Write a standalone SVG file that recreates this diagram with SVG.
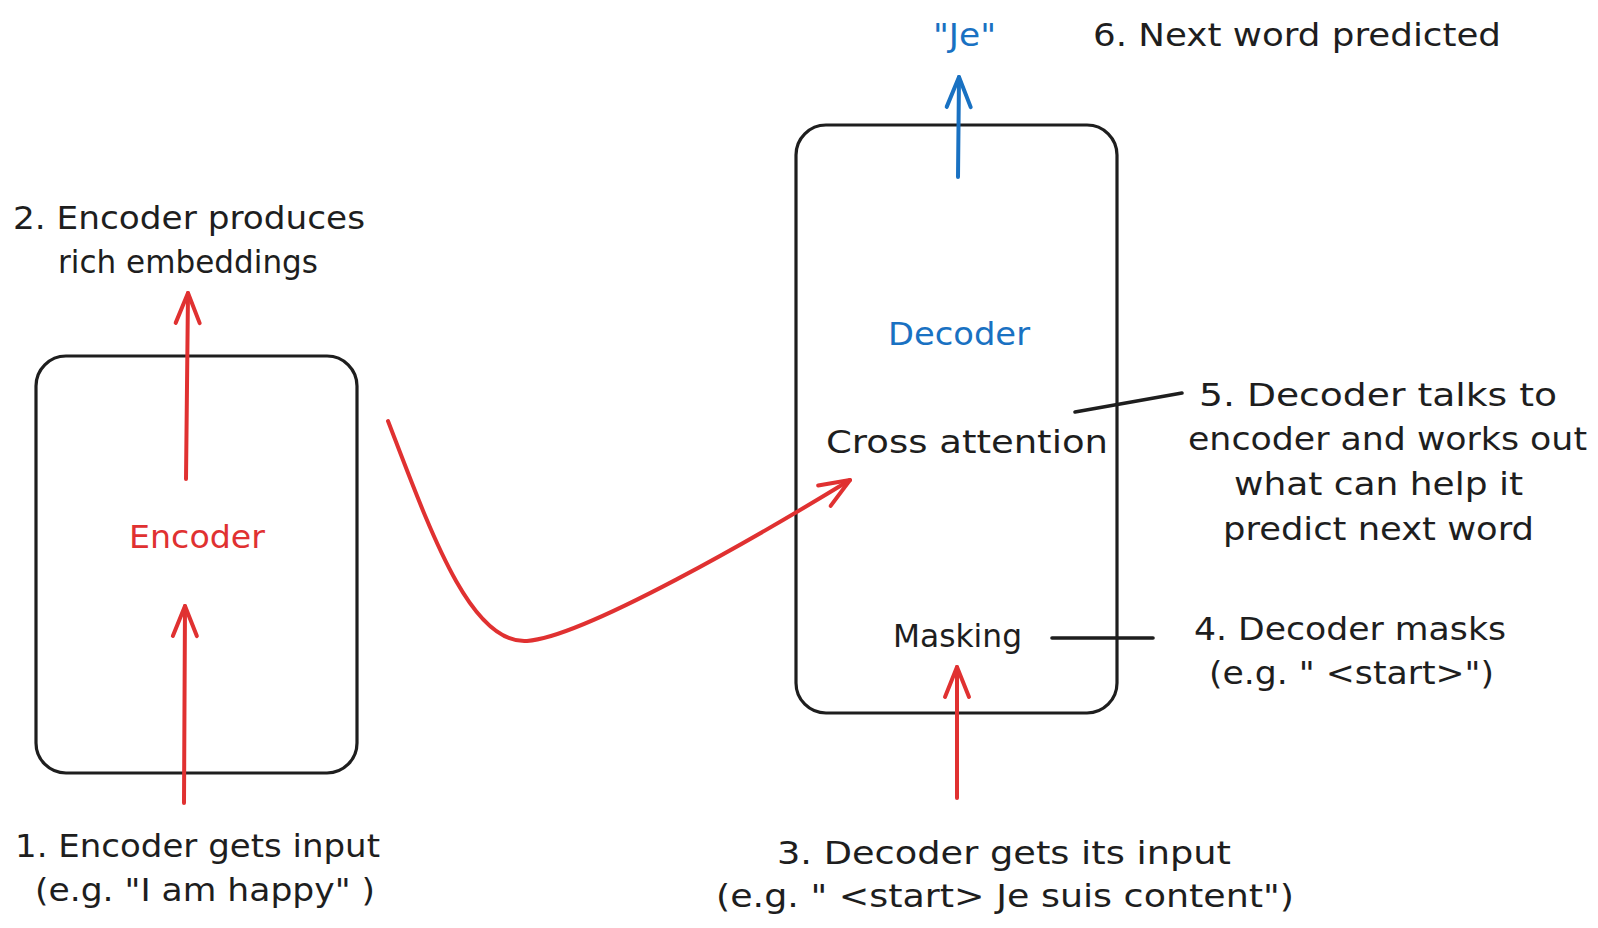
<svg xmlns="http://www.w3.org/2000/svg" width="1598" height="928" viewBox="0 0 1598 928">
  <style>
    .t { font-family: "DejaVu Sans", "Liberation Sans", sans-serif; font-size: 32px; fill: #1e1e1e; }
    .red { fill: #e03131; }
    .blue { fill: #1971c2; }
    .box { fill: none; stroke: #1e1e1e; stroke-width: 3.2; }
    .lnk { fill: none; stroke: #1e1e1e; stroke-width: 3.6; stroke-linecap: round; }
    .ra { fill: none; stroke: #e03131; stroke-width: 4; stroke-linecap: round; }
    .ba { fill: none; stroke: #1971c2; stroke-width: 4; stroke-linecap: round; }
  </style>
  <defs>
    <marker id="ah-red" markerUnits="userSpaceOnUse" viewBox="-34 -16 38 32" refX="0" refY="0" markerWidth="38" markerHeight="32" orient="auto" overflow="visible">
      <path d="M-30,-12 L0,0 L-30,12" fill="none" stroke="#e03131" stroke-width="4" stroke-linecap="round" stroke-linejoin="round"/>
    </marker>
    <marker id="ah-blue" markerUnits="userSpaceOnUse" viewBox="-34 -16 38 32" refX="0" refY="0" markerWidth="38" markerHeight="32" orient="auto" overflow="visible">
      <path d="M-30,-12 L0,0 L-30,12" fill="none" stroke="#1971c2" stroke-width="4" stroke-linecap="round" stroke-linejoin="round"/>
    </marker>
  </defs>
  <rect width="1598" height="928" fill="#ffffff"/>

  <g id="encoder">
    <rect class="box" x="36" y="356" width="321" height="417" rx="30" ry="30"/>
    <text class="t red" x="129" y="548" textLength="136" lengthAdjust="spacingAndGlyphs">Encoder</text>
  </g>

  <g id="decoder">
    <rect class="box" x="796" y="125" width="321" height="588" rx="30" ry="30"/>
    <text class="t blue" x="888" y="345" textLength="142" lengthAdjust="spacingAndGlyphs">Decoder</text>
    <text class="t" x="826" y="453" textLength="282" lengthAdjust="spacingAndGlyphs">Cross attention</text>
    <text class="t" x="893" y="647" textLength="129" lengthAdjust="spacingAndGlyphs">Masking</text>
  </g>

  <g id="label-1">
    <text class="t" x="15" y="857" textLength="365" lengthAdjust="spacingAndGlyphs">1. Encoder gets input</text>
    <text class="t" x="35" y="901" textLength="340" lengthAdjust="spacingAndGlyphs">(e.g. "I am happy" )</text>
  </g>

  <g id="label-2">
    <text class="t" x="13" y="229" textLength="352" lengthAdjust="spacingAndGlyphs">2. Encoder produces</text>
    <text class="t" x="58" y="273" textLength="260" lengthAdjust="spacingAndGlyphs">rich embeddings</text>
  </g>

  <g id="label-3">
    <text class="t" x="777" y="864" textLength="454" lengthAdjust="spacingAndGlyphs">3. Decoder gets its input</text>
    <text class="t" x="716" y="907" textLength="578" lengthAdjust="spacingAndGlyphs">(e.g. " &lt;start&gt; Je suis content")</text>
  </g>

  <g id="label-4">
    <text class="t" x="1194" y="640" textLength="312" lengthAdjust="spacingAndGlyphs">4. Decoder masks</text>
    <text class="t" x="1209" y="684" textLength="285" lengthAdjust="spacingAndGlyphs">(e.g. " &lt;start&gt;")</text>
  </g>

  <g id="label-5">
    <text class="t" x="1199" y="406" textLength="358" lengthAdjust="spacingAndGlyphs">5. Decoder talks to</text>
    <text class="t" x="1188" y="450" textLength="399" lengthAdjust="spacingAndGlyphs">encoder and works out</text>
    <text class="t" x="1234" y="495" textLength="289" lengthAdjust="spacingAndGlyphs">what can help it</text>
    <text class="t" x="1223" y="540" textLength="311" lengthAdjust="spacingAndGlyphs">predict next word</text>
  </g>

  <g id="label-6">
    <text class="t" x="1093" y="46" textLength="408" lengthAdjust="spacingAndGlyphs">6. Next word predicted</text>
  </g>

  <g id="output-je">
    <text class="t blue" x="933" y="46" textLength="63" lengthAdjust="spacingAndGlyphs">"Je"</text>
  </g>

  <g id="connectors">
    <path class="ra" d="M184,803 L185,606" marker-end="url(#ah-red)"/>
    <path class="ra" d="M186,479 L188,293" marker-end="url(#ah-red)"/>
    <path class="ra" d="M388,421 C430,530 470,645 527,641 S760,535 850,480" marker-end="url(#ah-red)"/>
    <path class="ra" d="M957,798 L957,667" marker-end="url(#ah-red)"/>
    <path class="ba" d="M958,177 L959,77" marker-end="url(#ah-blue)"/>
    <path class="lnk" d="M1075,412 L1182,393"/>
    <path class="lnk" d="M1052,638 L1153,638"/>
  </g>
</svg>
